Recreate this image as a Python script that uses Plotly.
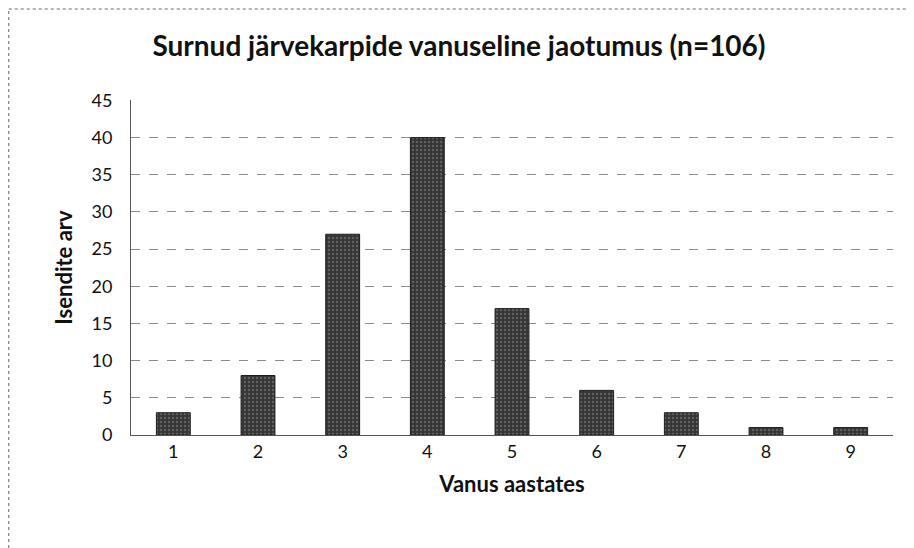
import plotly.graph_objects as go

ages = ["1", "2", "3", "4", "5", "6", "7", "8", "9"]
counts = [3, 8, 27, 40, 17, 6, 3, 1, 1]
y_ticks = [0, 5, 10, 15, 20, 25, 30, 35, 40, 45]

title = "Surnud järvekarpide vanuseline jaotumus (n=106)"
x_title = "Vanus aastates"
y_title = "Isendite arv"

# page body has an 8px margin, so the figure is sized to fit the window
OFF = 8
W, H = 914 - OFF, 548 - OFF
L, R, T, B = 131 - OFF, W - (893 - OFF), 100 - OFF, H - (435 - OFF)
pw, ph = W - L - R, H - T - B

fig = go.Figure()
fig.add_trace(go.Bar(x=ages, y=counts, marker=dict(color="#353535",
                     line=dict(color="#1e1e1e", width=1),
                     pattern=dict(shape=".", fgcolor="#8a8a8a", size=4, solidity=0.3))))

font = "Lato, 'Open Sans', sans-serif"
fig.update_layout(
    width=W, height=H,
    margin=dict(l=L, r=R, t=T, b=B),
    paper_bgcolor="white", plot_bgcolor="white",
    bargap=0.6,
    showlegend=False,
    title=dict(text="<b>" + title + "</b>", x=(459 - OFF) / W, xanchor="center",
               y=1 - (46 - OFF) / H, yanchor="middle",
               font=dict(family=font, size=28, color="#111")),
    font=dict(family=font, color="#111"),
)
fig.update_xaxes(
    type="category", showgrid=False, showline=True, linecolor="#555", linewidth=1,
    ticks="", tickfont=dict(size=18, color="#111"),
    title=dict(text="<b>" + x_title + "</b>", font=dict(size=22, color="#111"), standoff=16),
)
fig.update_yaxes(
    range=[0, 45.05], tickvals=y_ticks, showgrid=True, gridcolor="#8a8a8a", griddash="dash",
    gridwidth=1, showline=True, linecolor="#555", linewidth=1,
    zeroline=False, ticks="", tickfont=dict(size=18, color="#111"), ticklabelstandoff=14,
    title=dict(text="<b>" + y_title + "</b>", font=dict(size=22, color="#111"), standoff=12),
)
# outer dashed chart border (left and top edges visible in the scan)
bx0, by1 = -L / pw + 0.001, (H - B - 1) / ph
fig.add_shape(type="line", xref="paper", yref="paper", x0=bx0, x1=bx0, y0=-B / ph, y1=by1,
              line=dict(color="#666", width=1, dash="dot"), layer="below")
fig.add_shape(type="line", xref="paper", yref="paper", x0=bx0, x1=(W - L) / pw, y0=by1, y1=by1,
              line=dict(color="#666", width=1, dash="dot"), layer="below")

fig.write_html("out.html")
